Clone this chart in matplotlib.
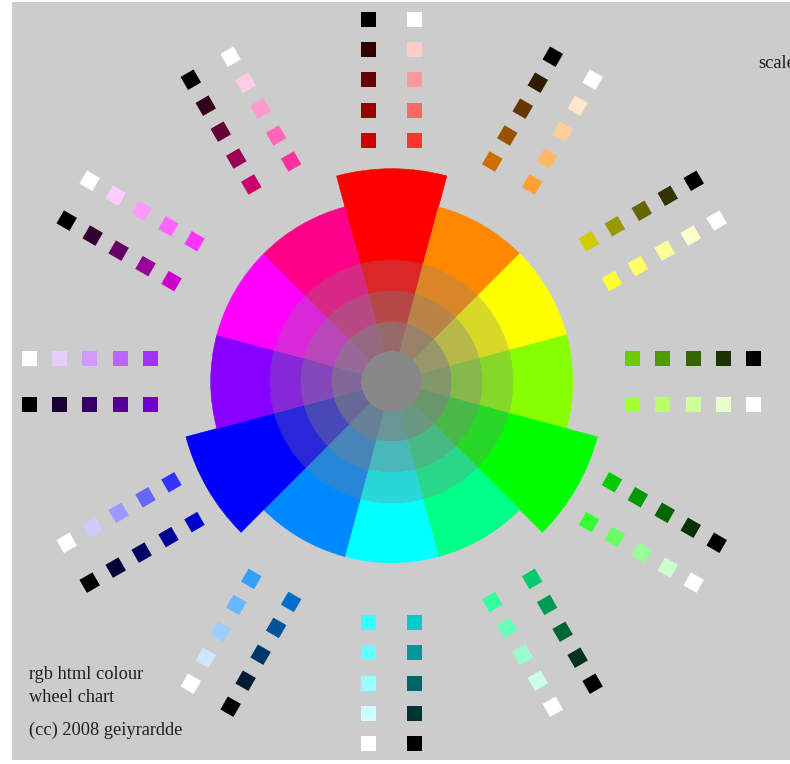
import numpy as np
import matplotlib
matplotlib.use("Agg")
import matplotlib.pyplot as plt
from matplotlib.patches import Wedge, Rectangle, Circle
from matplotlib.colors import to_rgb

# ---- data ----
hue_names = ["red", "orange", "yellow", "chartreuse", "green", "spring green",
             "cyan", "azure", "blue", "violet", "magenta", "rose"]
hue_hex = ["#FF0000", "#FF8800", "#FFFF00", "#88FF00", "#00FF00", "#00FF88",
           "#00FFFF", "#0088FF", "#0000FF", "#8800FF", "#FF00FF", "#FF0088"]
hue_angle = [90, 60, 30, 0, -30, -60, -90, -120, -150, 180, 150, 120]
primary = ["red", "green", "blue"]
ring_saturation = [0.18, 0.44, 0.69, 1.0]        # inner -> outer
shade_levels = [0.8, 0.6, 0.4, 0.2, 0.0]          # fraction of colour kept (inner -> outer)
tint_levels = [0.2, 0.4, 0.6, 0.8, 1.0]           # fraction of white mixed in
caption_lines = ["rgb html colour", "wheel chart"]
credit = "(cc) 2008 geiyrardde"
side_label = "scale"

# ---- layout ----
W, H = 790, 764
cx, cy = 391.7, 381.7
r_center = 30
ring_edges = [30, 60, 91, 122, 181]
r_primary = 213
sq_dist = [241, 271, 302, 332, 362]
sq_off = 23
sq_size = 15
grey_mix = np.array([128, 128, 128]) / 255.0

fig = plt.figure(figsize=(W / 100, H / 100), dpi=100)
fig.patch.set_facecolor("white")
ax = fig.add_axes([0, 0, 1, 1])
ax.set_xlim(0, W)
ax.set_ylim(H, 0)
ax.set_aspect("equal")
ax.axis("off")

ax.add_patch(Rectangle((12, 2), W - 12, 758, facecolor="#CCCCCC", edgecolor="none", zorder=0))

def blend(c, t, base):
    c = np.array(to_rgb(c))
    return tuple(base * (1 - t) + c * t)

# wheel
for name, col, a in zip(hue_names, hue_hex, hue_angle):
    th1, th2 = -(a + 15), -(a - 15)
    for j, t in enumerate(ring_saturation):
        r_in = ring_edges[j]
        r_out = ring_edges[j + 1]
        if j == len(ring_saturation) - 1 and name in primary:
            r_out = r_primary
        fc = blend(col, t, grey_mix)
        ax.add_patch(Wedge((cx, cy), r_out, th1, th2, width=r_out - r_in,
                           facecolor=fc, edgecolor=fc, linewidth=0.4, zorder=2))
ax.add_patch(Circle((cx, cy), r_center, facecolor="#888888", edgecolor="#888888",
                    linewidth=0.4, zorder=3))

# shade / tint squares
white = np.ones(3)
black = np.zeros(3)
for col, a in zip(hue_hex, hue_angle):
    ar = np.deg2rad(a)
    u = np.array([np.cos(ar), np.sin(ar)])
    p = np.array([np.cos(ar + np.pi / 2), np.sin(ar + np.pi / 2)])
    for k, d in enumerate(sq_dist):
        for off, fc in ((sq_off, blend(col, shade_levels[k], black)),
                        (-sq_off, blend(col, 1 - tint_levels[k], white))):
            v = u * d + p * off
            x, y = cx + v[0], cy - v[1]
            ax.add_patch(Rectangle((x - sq_size / 2, y - sq_size / 2), sq_size, sq_size,
                                   angle=-a, rotation_point="center",
                                   facecolor=fc, edgecolor="none", zorder=4))

font = dict(family="Liberation Serif", color="#1e1e1e", fontsize=13.2)
ax.text(29, 679, caption_lines[0], va="baseline", ha="left", **font)
ax.text(29, 702, caption_lines[1], va="baseline", ha="left", **font)
ax.text(29, 735, credit, va="baseline", ha="left", **font)
ax.text(758, 68, side_label, va="baseline", ha="left", **font)

fig.savefig("out.png", dpi=100, facecolor="white")
